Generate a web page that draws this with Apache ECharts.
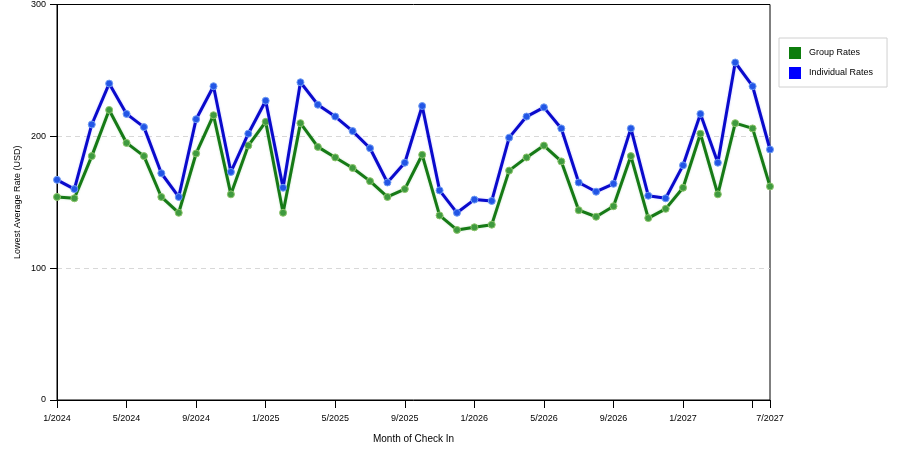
<!DOCTYPE html>
<html>
<head>
<meta charset="utf-8">
<script src="https://cdn.jsdelivr.net/npm/echarts@6/dist/echarts.min.js"></script>
<style>
html,body{margin:0;padding:0;background:#fff;}
#chart{width:900px;height:450px;}
</style>
</head>
<body>
<div id="chart"></div>
<script>
const categories = [
  "1/2024","2/2024","3/2024","4/2024","5/2024","6/2024","7/2024","8/2024",
  "9/2024","10/2024","11/2024","12/2024","1/2025","2/2025","3/2025","4/2025",
  "5/2025","6/2025","7/2025","8/2025","9/2025","10/2025","11/2025","12/2025",
  "1/2026","2/2026","3/2026","4/2026","5/2026","6/2026","7/2026","8/2026",
  "9/2026","10/2026","11/2026","12/2026","1/2027","2/2027","3/2027","4/2027",
  "5/2027","7/2027"
];
const groupRates = [
  154,153,185,220,195,185,154,142,187,216,156,193,211,142,210,192,
  184,176,166,154,160,186,140,129,131,133,174,184,193,181,144,139,
  147,185,138,145,161,202,156,210,206,162
];
const individualRates = [
  167,160,209,240,217,207,172,154,213,238,173,202,227,161,241,224,
  215,204,191,165,180,223,159,142,152,151,199,215,222,206,165,158,
  164,206,155,153,178,217,180,256,238,190
];
const yTicks = { min: 0, max: 300, interval: 100 };

const font = "Liberation Sans, Arial, sans-serif";
const lastIdx = categories.length - 1;

const chart = echarts.init(document.getElementById('chart'), null, {renderer: 'canvas'});
chart.setOption({
  animation: false,
  backgroundColor: '#fff',
  grid: {
    left: 57, right: 130, top: 4, bottom: 50,
    show: true, borderColor: '#000', borderWidth: 1
  },
  legend: {
    orient: 'vertical',
    left: 779, top: 38,
    padding: [9, 14, 8, 10],
    itemWidth: 12, itemHeight: 12, itemGap: 8,
    borderColor: '#d0d0d0', borderWidth: 1,
    icon: 'rect',
    textStyle: { fontFamily: font, fontSize: 9, color: '#000', padding: [0, 0, 0, 3] },
    data: [
      { name: 'Group Rates', itemStyle: { color: '#0d7d0d', borderWidth: 0 } },
      { name: 'Individual Rates', itemStyle: { color: '#0000ff', borderWidth: 0 } }
    ]
  },
  xAxis: {
    type: 'category',
    data: categories,
    boundaryGap: false,
    name: 'Month of Check In',
    nameLocation: 'middle',
    nameGap: 34,
    nameMoveOverlap: false,
    nameTextStyle: { fontFamily: font, fontSize: 10, color: '#000' },
    axisLine: { lineStyle: { color: '#000', width: 1 } },
    axisTick: {
      show: true, length: 8, lineStyle: { color: '#000' },
      interval: function (i) { return i % 4 === 0 || i === lastIdx; }
    },
    axisLabel: {
      fontFamily: font, fontSize: 9, color: '#000', margin: 14,
      interval: function (i) { return (i % 4 === 0 && i !== 40) || i === lastIdx; }
    },
    splitLine: { show: false }
  },
  yAxis: {
    type: 'value',
    min: yTicks.min, max: yTicks.max, interval: yTicks.interval,
    name: 'Lowest Average Rate (USD)',
    nameLocation: 'middle',
    nameGap: 35,
    nameMoveOverlap: false,
    nameTextStyle: { fontFamily: font, fontSize: 9, color: '#000' },
    axisLine: { show: true, lineStyle: { color: '#000', width: 1 } },
    axisTick: { show: true, length: 7, lineStyle: { color: '#000' } },
    axisLabel: { fontFamily: font, fontSize: 9, color: '#000', margin: 11 },
    splitLine: {
      show: true, showMinLine: false, showMaxLine: false,
      lineStyle: { color: '#d8d8d8', type: [5, 4], width: 1 }
    }
  },
  series: [
    {
      name: 'Group Rates',
      type: 'line',
      data: groupRates,
      symbol: 'circle',
      symbolSize: 7,
      lineStyle: { color: '#167a16', width: 3, shadowColor: 'rgba(60,160,60,0.35)', shadowBlur: 2 },
      itemStyle: { color: '#3f9a3f', borderColor: '#8cc46a', borderWidth: 1 },
      z: 2
    },
    {
      name: 'Individual Rates',
      type: 'line',
      data: individualRates,
      symbol: 'circle',
      symbolSize: 7,
      lineStyle: { color: '#0a0acc', width: 3, shadowColor: 'rgba(80,80,255,0.35)', shadowBlur: 2 },
      itemStyle: { color: '#2255e6', borderColor: '#6f9cf2', borderWidth: 1 },
      z: 3
    }
  ]
});
</script>
</body>
</html>
